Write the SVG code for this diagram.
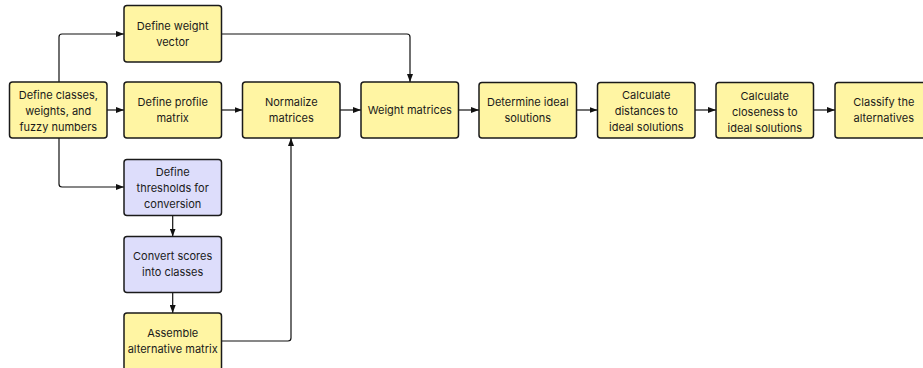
<svg xmlns="http://www.w3.org/2000/svg" width="923" height="368" viewBox="0 0 923 368">
<defs>
<marker id="ah" markerWidth="8" markerHeight="6" refX="8" refY="3" orient="auto" markerUnits="userSpaceOnUse">
<path d="M0,0 L8,3 L0,6 Z" fill="#111"/>
</marker>
<style>
.n rect{stroke:#1a1a1a;stroke-width:1.5}
.y rect{fill:#FFF5A3}
.p rect{fill:#DDDDFB}
text{font-family:Inter,"Noto Sans","Liberation Sans",sans-serif;font-size:11px;fill:#1a1a1a;text-anchor:middle}
.e path{fill:none;stroke:#111;stroke-width:1.2;marker-end:url(#ah)}
</style>
</defs>
<rect width="923" height="368" fill="#fff"/>
<g class="e" id="connectors">
<path d="M59,82 V37 Q59,34 62,34 H124"/>
<path d="M107,110 H124"/>
<path d="M59,138 V184 Q59,187 62,187 H124"/>
<path d="M221.5,34 H407 Q410,34 410,37 V82"/>
<path d="M221.5,110 H242.5"/>
<path d="M340,110 H361"/>
<path d="M458.5,110 H479"/>
<path d="M576.5,110 H597.5"/>
<path d="M695,110 H716"/>
<path d="M813.5,110 H835"/>
<path d="M172.7,215.5 V236.5"/>
<path d="M172.7,292.5 V313"/>
<path d="M221.5,341 H288 Q291,341 291,338 V138"/>
</g>
<g id="n1" class="n y"><rect x="9.5" y="82" width="97.5" height="56" rx="3"/><text x="58.3" y="99">Define classes,</text><text x="58.3" y="115">weights, and</text><text x="58.3" y="131">fuzzy numbers</text></g>
<g id="n2" class="n y"><rect x="124" y="5.5" width="97.5" height="56.5" rx="3"/><text x="172.7" y="29.5">Define weight</text><text x="172.7" y="45.5">vector</text></g>
<g id="n3" class="n y"><rect x="124" y="82" width="97.5" height="56" rx="3"/><text x="172.7" y="106">Define profile</text><text x="172.7" y="122">matrix</text></g>
<g id="n4" class="n p"><rect x="124" y="159.5" width="97.5" height="56" rx="3"/><text x="172.7" y="175.5">Define</text><text x="172.7" y="191.5">thresholds for</text><text x="172.7" y="207.5">conversion</text></g>
<g id="n5" class="n p"><rect x="124" y="236.5" width="97.5" height="56" rx="3"/><text x="172.7" y="260">Convert scores</text><text x="172.7" y="276">into classes</text></g>
<g id="n6" class="n y"><rect x="124" y="313" width="97.5" height="60" rx="3"/><text x="172.7" y="337">Assemble</text><text x="172.7" y="353">alternative matrix</text></g>
<g id="n7" class="n y"><rect x="242.5" y="82" width="97.5" height="56" rx="3"/><text x="291.3" y="106">Normalize</text><text x="291.3" y="122">matrices</text></g>
<g id="n8" class="n y"><rect x="361" y="82" width="97.5" height="56" rx="3"/><text x="409.8" y="114">Weight matrices</text></g>
<g id="n9" class="n y"><rect x="479" y="82.5" width="97.5" height="55.5" rx="3"/><text x="527.8" y="106">Determine ideal</text><text x="527.8" y="122">solutions</text></g>
<g id="n10" class="n y"><rect x="597.5" y="82.5" width="97.5" height="55.5" rx="3"/><text x="646.3" y="99">Calculate</text><text x="646.3" y="115">distances to</text><text x="646.3" y="131">ideal solutions</text></g>
<g id="n11" class="n y"><rect x="716" y="82.5" width="97.5" height="55.5" rx="3"/><text x="764.8" y="100">Calculate</text><text x="764.8" y="116">closeness to</text><text x="764.8" y="132">ideal solutions</text></g>
<g id="n12" class="n y"><rect x="835" y="82.5" width="97.5" height="55.5" rx="3"/><text x="883.8" y="106">Classify the</text><text x="883.8" y="122">alternatives</text></g>
</svg>
